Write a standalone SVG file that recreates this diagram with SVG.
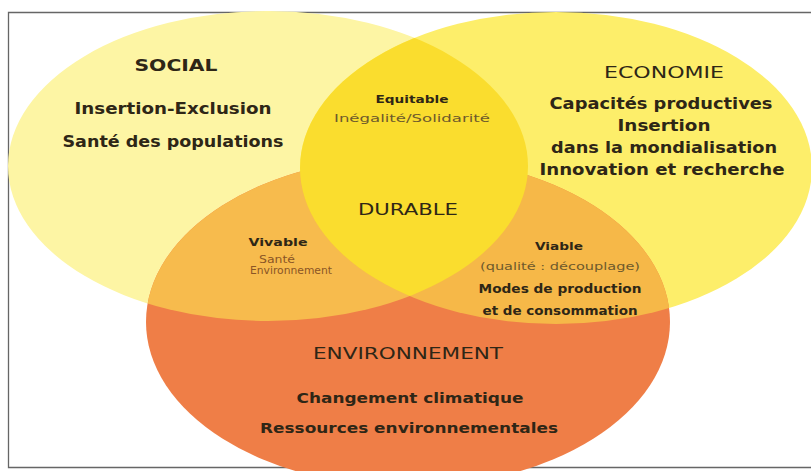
<svg xmlns="http://www.w3.org/2000/svg" width="811" height="471" viewBox="0 0 811 471">
<style>
.t{font-family:"DejaVu Sans","Liberation Sans",sans-serif;fill:#2e2616;text-anchor:middle}
.b{font-weight:bold}
.m{font-weight:600}
.lt{fill:#6e5a2c}
.br{fill:#8a5526}
</style>
<defs>
<clipPath id="cS"><ellipse cx="268" cy="166" rx="260" ry="155"/></clipPath>
<clipPath id="cE"><ellipse cx="556" cy="168" rx="256" ry="156"/></clipPath>
</defs>
<rect width="811" height="471" fill="#ffffff"/>
<path d="M811 12.5 H8.5 V467.5 H811" fill="none" stroke="#666" stroke-width="1.3"/>
<g id="social"><ellipse cx="268" cy="166" rx="260" ry="155" fill="#fdf5a4"/></g>
<g id="economie"><ellipse cx="556" cy="168" rx="256" ry="156" fill="#fdee6a"/></g>
<g id="environnement"><ellipse cx="408" cy="322" rx="262" ry="165" fill="#ef7e47"/></g>
<g id="vivable-zone"><ellipse cx="408" cy="322" rx="262" ry="165" fill="#f7bb4d" clip-path="url(#cS)"/></g>
<g id="viable-zone"><ellipse cx="408" cy="322" rx="262" ry="165" fill="#f6b848" clip-path="url(#cE)"/></g>
<g id="equitable-zone"><ellipse cx="268" cy="166" rx="260" ry="155" fill="#fadd2e" clip-path="url(#cE)"/></g>
<g id="connectors"/>
<g id="social-text">
<text class="t m" x="176" y="71" font-size="15" textLength="83" lengthAdjust="spacingAndGlyphs">SOCIAL</text>
<text class="t b" x="173" y="114" font-size="16" textLength="197" lengthAdjust="spacingAndGlyphs">Insertion-Exclusion</text>
<text class="t b" x="173" y="147" font-size="16" textLength="221" lengthAdjust="spacingAndGlyphs">Santé des populations</text>
</g>
<g id="economie-text">
<text class="t" x="664" y="78" font-size="15" textLength="120" lengthAdjust="spacingAndGlyphs">ECONOMIE</text>
<text class="t b" x="661" y="109" font-size="15" textLength="223" lengthAdjust="spacingAndGlyphs">Capacités productives</text>
<text class="t b" x="664" y="131" font-size="15" textLength="93" lengthAdjust="spacingAndGlyphs">Insertion</text>
<text class="t b" x="664" y="153" font-size="15" textLength="226" lengthAdjust="spacingAndGlyphs">dans la mondialisation</text>
<text class="t b" x="662" y="175" font-size="15" textLength="245" lengthAdjust="spacingAndGlyphs">Innovation et recherche</text>
</g>
<g id="equitable-text">
<text class="t b" x="412" y="103" font-size="11" textLength="73" lengthAdjust="spacingAndGlyphs">Equitable</text>
<text class="t lt" x="412" y="122" font-size="10" textLength="156" lengthAdjust="spacingAndGlyphs">Inégalité/Solidarité</text>
</g>
<g id="durable-text">
<text class="t" x="408" y="215" font-size="16" textLength="100" lengthAdjust="spacingAndGlyphs">DURABLE</text>
</g>
<g id="vivable-text">
<text class="t b" x="278" y="246" font-size="11" textLength="59" lengthAdjust="spacingAndGlyphs">Vivable</text>
<text class="t br" x="277" y="263" font-size="10" textLength="36" lengthAdjust="spacingAndGlyphs">Santé</text>
<text class="t br" x="291" y="274" font-size="10" textLength="82" lengthAdjust="spacingAndGlyphs">Environnement</text>
</g>
<g id="viable-text">
<text class="t b" x="559" y="250" font-size="11" textLength="48" lengthAdjust="spacingAndGlyphs">Viable</text>
<text class="t lt" x="560" y="270" font-size="11" textLength="160" lengthAdjust="spacingAndGlyphs">(qualité : découplage)</text>
<text class="t m" x="560" y="293" font-size="12" textLength="163" lengthAdjust="spacingAndGlyphs">Modes de production</text>
<text class="t m" x="560" y="315" font-size="12" textLength="155" lengthAdjust="spacingAndGlyphs">et de consommation</text>
</g>
<g id="environnement-text">
<text class="t" x="408" y="359" font-size="16" textLength="190" lengthAdjust="spacingAndGlyphs">ENVIRONNEMENT</text>
<text class="t m" x="410" y="403" font-size="14" textLength="227" lengthAdjust="spacingAndGlyphs">Changement climatique</text>
<text class="t m" x="409" y="433" font-size="14" textLength="298" lengthAdjust="spacingAndGlyphs">Ressources environnementales</text>
</g>
</svg>
